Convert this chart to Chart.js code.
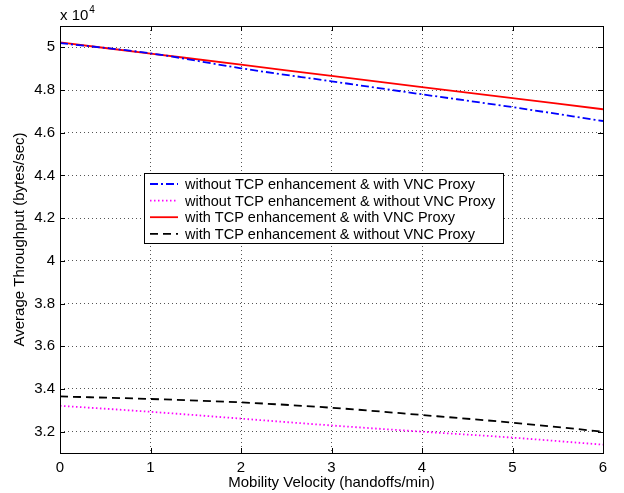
<!DOCTYPE html>
<html>
<head>
<meta charset="utf-8">
<script src="https://cdn.jsdelivr.net/npm/chart.js@4/dist/chart.umd.min.js"></script>
<style>
  html, body { margin: 0; padding: 0; background: #fff; }
  #wrap { width: 624px; height: 493px; }
</style>
</head>
<body>
<div id="wrap"><canvas id="chart"></canvas></div>
<script>
const VELOCITY = [0, 1, 2, 3, 4, 5, 6];
const X_TICKS = [0, 1, 2, 3, 4, 5, 6];
const Y_TICKS = [32000, 34000, 36000, 38000, 40000, 42000, 44000, 46000, 48000, 50000];

const NO_TCP_VNC = [50200, 49720, 49020, 48410, 47800, 47200, 46550];
const NO_TCP_NO_VNC = [33210, 32930, 32610, 32290, 32000, 31720, 31390];
const TCP_VNC = [50230, 49710, 49190, 48660, 48140, 47620, 47100];
const TCP_NO_VNC = [33650, 33530, 33370, 33120, 32780, 32420, 32000];

const LABELS = [
  "without TCP enhancement & with VNC Proxy",
  "without TCP enhancement & without VNC Proxy",
  "with TCP enhancement & with VNC Proxy",
  "with TCP enhancement & without VNC Proxy",
];

const FONT = "'Liberation Sans', Arial, Helvetica, sans-serif";

function pts(ys) {
  return VELOCITY.map((x, i) => ({ x, y: ys[i] }));
}

function fmtTick(v) {
  return String(parseFloat((v / 10000).toFixed(1)));
}

// box, inward ticks, exponent label and legend, MATLAB style
const matlabFrame = {
  id: "matlabFrame",
  afterDatasetsDraw(chart) {
    const { ctx, chartArea: a, scales } = chart;
    ctx.save();
    ctx.strokeStyle = "#000";
    ctx.lineWidth = 1;
    ctx.setLineDash([]);
    ctx.strokeRect(a.left + 0.5, a.top + 0.5, a.right - a.left, a.bottom - a.top);
    ctx.beginPath();
    X_TICKS.forEach((v) => {
      const px = Math.round(scales.x.getPixelForValue(v)) + 0.5;
      ctx.moveTo(px, a.bottom); ctx.lineTo(px, a.bottom - 5);
      ctx.moveTo(px, a.top); ctx.lineTo(px, a.top + 5);
    });
    Y_TICKS.forEach((v) => {
      const py = Math.round(scales.y.getPixelForValue(v)) + 0.5;
      ctx.moveTo(a.left, py); ctx.lineTo(a.left + 5, py);
      ctx.moveTo(a.right, py); ctx.lineTo(a.right - 5, py);
    });
    ctx.stroke();

    // exponent
    ctx.fillStyle = "#000";
    ctx.textBaseline = "alphabetic";
    ctx.textAlign = "left";
    ctx.font = "15px " + FONT;
    ctx.fillText("x 10", a.left, a.top - 6);
    const w = ctx.measureText("x 10").width;
    ctx.font = "10px " + FONT;
    ctx.fillText("4", a.left + w + 1, a.top - 13);

    // legend
    const lx = a.left + 84, ly = a.top + 147, lw = 359, lh = 70;
    ctx.fillStyle = "#fff";
    ctx.fillRect(lx, ly, lw, lh);
    ctx.strokeStyle = "#000";
    ctx.lineWidth = 1;
    ctx.strokeRect(lx + 0.5, ly + 0.5, lw, lh);
    ctx.font = "14.5px " + FONT;
    ctx.textBaseline = "middle";
    chart.data.datasets.forEach((ds, i) => {
      const y = ly + 11 + i * 16.6;
      ctx.beginPath();
      ctx.strokeStyle = ds.borderColor;
      ctx.lineWidth = ds.borderWidth;
      ctx.setLineDash(ds.borderDash || []);
      ctx.moveTo(lx + 6, y);
      ctx.lineTo(lx + 34, y);
      ctx.stroke();
      ctx.setLineDash([]);
      ctx.fillStyle = "#000";
      ctx.fillText(ds.label, lx + 41, y + 1);
    });
    ctx.restore();
  },
};

const common = { fill: false, pointRadius: 0, borderWidth: 1.8, cubicInterpolationMode: "monotone" };

new Chart(document.getElementById("chart"), {
  type: "line",
  data: {
    datasets: [
      { ...common, label: LABELS[0], data: pts(NO_TCP_VNC), borderColor: "#0000ff", borderDash: [8, 3, 2, 3] },
      { ...common, label: LABELS[1], data: pts(NO_TCP_NO_VNC), borderColor: "#ff00ff", borderDash: [1.5, 2.5] },
      { ...common, label: LABELS[2], data: pts(TCP_VNC), borderColor: "#ff0000" },
      { ...common, label: LABELS[3], data: pts(TCP_NO_VNC), borderColor: "#000000", borderDash: [8, 5] },
    ],
  },
  options: {
    responsive: true,
    maintainAspectRatio: false,
    animation: false,
    layout: { padding: { top: 26, right: 21, left: 0, bottom: 0 } },
    plugins: { legend: { display: false }, tooltip: { enabled: false } },
    scales: {
      x: {
        type: "linear",
        min: 0,
        max: 6,
        afterBuildTicks: (ax) => { ax.ticks = X_TICKS.map((v) => ({ value: v })); },
        afterFit: (ax) => { ax.height = 40; },
        ticks: { color: "#000", font: { family: FONT, size: 15 }, padding: 6, maxRotation: 0, callback: (v) => String(v) },
        grid: { color: "#555", lineWidth: 1, tickLength: 0 },
        border: { display: false, dash: [1, 3] },
        title: { display: true, text: "Mobility Velocity (handoffs/min)", color: "#000", font: { family: FONT, size: 15 }, padding: { top: 0, bottom: 1 } },
      },
      y: {
        type: "linear",
        min: 31000,
        max: 51000,
        afterBuildTicks: (ax) => { ax.ticks = Y_TICKS.map((v) => ({ value: v })); },
        afterFit: (ax) => { ax.width = 60; },
        ticks: { color: "#000", font: { family: FONT, size: 15 }, padding: 5, callback: fmtTick },
        grid: { color: "#555", lineWidth: 1, tickLength: 0 },
        border: { display: false, dash: [1, 3] },
        title: { display: true, text: "Average Throughput (bytes/sec)", color: "#000", font: { family: FONT, size: 15 }, padding: { top: 11, bottom: 0 } },
      },
    },
  },
  plugins: [matlabFrame],
});
</script>
</body>
</html>
